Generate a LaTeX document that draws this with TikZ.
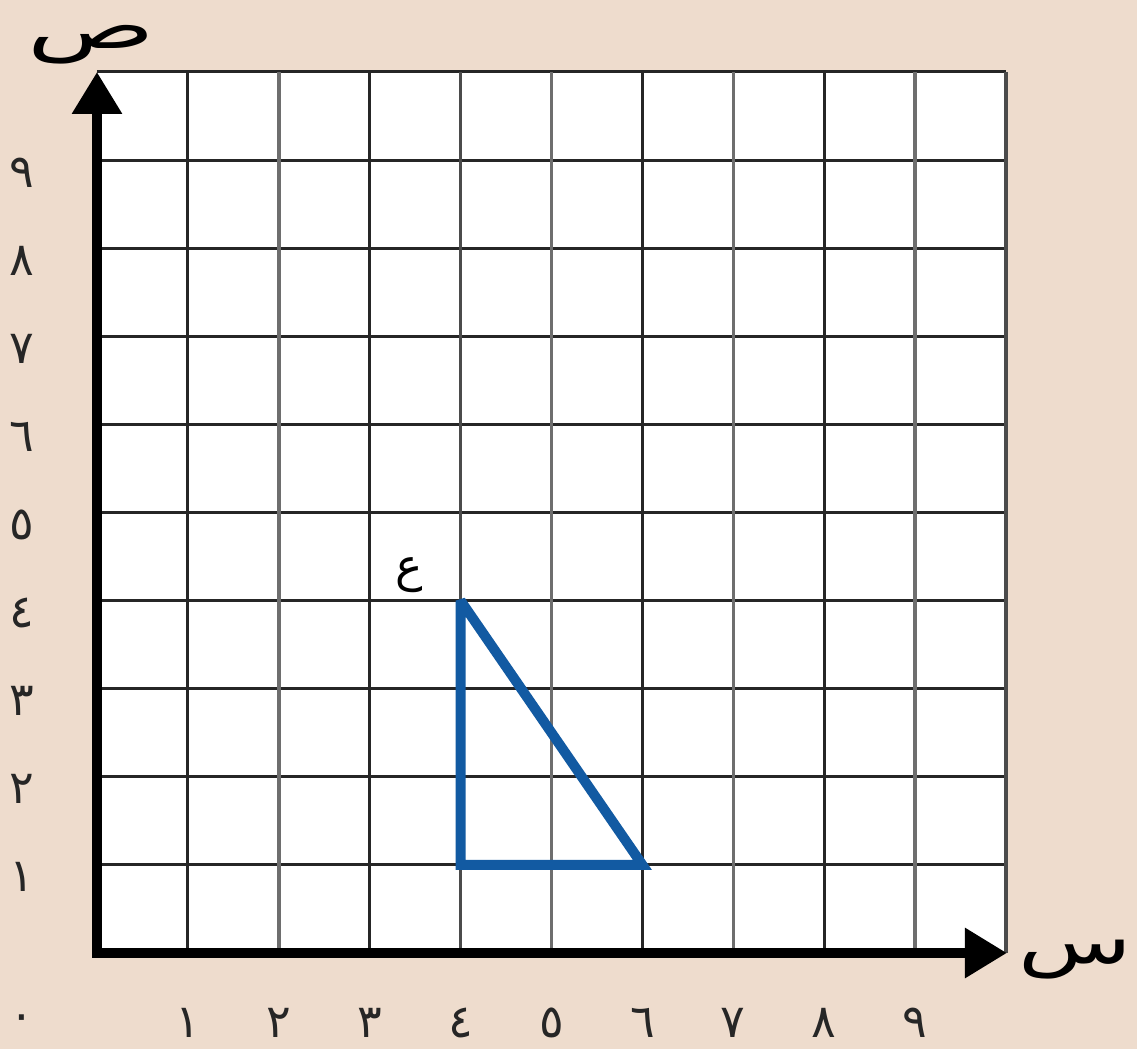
\documentclass[tikz,border=0pt]{standalone}
\usepackage{fontspec}
\usetikzlibrary{arrows.meta}
\newfontfamily\arabicfont[Script=Arabic]{DejaVu Sans}
\TeXXeTstate=1
\definecolor{bgbeige}{RGB}{238,220,205}
\definecolor{gridblack}{RGB}{38,38,38}
\definecolor{gridgray}{RGB}{110,110,110}
\definecolor{gridmid}{RGB}{75,75,75}
\definecolor{triblue}{RGB}{18,90,162}
\tikzset{
  gline/.style={line width=3pt, gridblack},
  ggray/.style={line width=3.6pt, gridgray},
  gmid/.style={line width=3.3pt, gridmid},
  axisline/.style={line width=9.5pt, black, line cap=rect},
  axistip/.style={-{Triangle[length=42pt,width=48pt]}},
  digit/.style={font=\arabicfont\fontsize{46}{52}\selectfont, inner sep=0pt, text=black!85},
  axislabel/.style={font=\arabicfont\fontsize{64}{70}\selectfont, inner sep=0pt, text=black},
  tri/.style={line width=10pt, triblue, line join=miter, miter limit=2.5}
}
\begin{document}
\begin{tikzpicture}[x=90.9pt,y=88.1pt]
\path[fill=bgbeige] (-1.0671,-1.0897) rectangle (11.4411,10.8173);
\useasboundingbox (-1.0671,-1.0897) rectangle (11.4411,10.8173);
% grid
\fill[white] (0,0) rectangle (10,10);
\foreach \j in {1,...,10} \draw[gline] (0,\j) -- (10,\j);
\foreach \i in {1,3,6,8} \draw[gline] (\i,0) -- (\i,10);
\foreach \i in {2,5,7,9} \draw[ggray] (\i,0) -- (\i,10);
\draw[gmid] (4,0) -- (4,10);
\draw[gmid] (10,0) -- (10,10);
% axes
\coordinate (O) at (0,0);
\coordinate (X) at (10.01,0);
\coordinate (Y) at (0,10.0);
\draw[axisline, axistip] (O) -- (X);
\draw[axisline, axistip] (O) -- (Y);
% triangle
\coordinate (A) at (4,4);
\coordinate (B) at (4,1);
\coordinate (C) at (6,1);
\draw[tri] (A) -- (B) -- (C) -- cycle;
% labels
\node[digit] (zero) at (-0.825,-0.795) {\beginR ٠\endR};
\foreach \k/\d in {1/١,2/٢,3/٣,4/٤,5/٥,6/٦,7/٧,8/٨,9/٩}{
  \node[digit] (xl\k) at (\k,-0.795) {\beginR \d\endR};
  \node[digit] (yl\k) at (-0.825,\k-0.14) {\beginR \d\endR};
}
\node[font=\arabicfont\fontsize{46}{52}\selectfont, inner sep=0pt] (ain) at (3.44,4.29) {\beginR ع\endR};
\node[axislabel] (sad) at (-0.06,10.31) {\scalebox{1.65}[1]{\beginR ص\endR}};
\node[axislabel] (sin) at (10.76,-0.07) {\scalebox{1.45}[1]{\beginR س\endR}};
\end{tikzpicture}
\end{document}
